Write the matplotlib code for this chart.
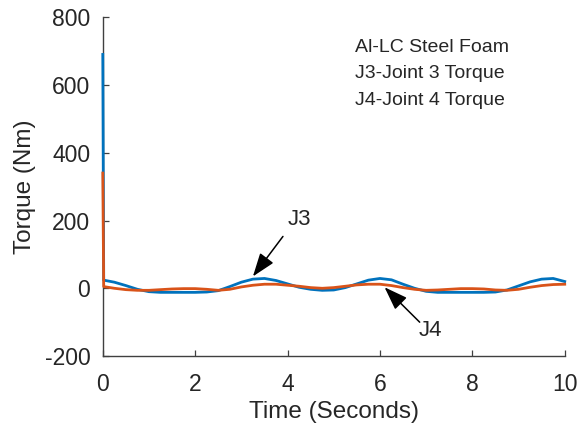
import matplotlib
matplotlib.use("Agg")
import matplotlib.pyplot as plt

plt.rcParams['font.family'] = ['Liberation Sans', 'DejaVu Sans']
plt.rcParams['axes.unicode_minus'] = False

time = [0.0, 0.02, 0.25, 0.5, 0.75, 1.0, 1.25, 1.5, 1.75, 2.0, 2.25, 2.5, 2.75,
        3.0, 3.25, 3.5, 3.75, 4.0, 4.25, 4.5, 4.75, 5.0, 5.25, 5.5, 5.75,
        6.0, 6.25, 6.5, 6.75, 7.0, 7.25, 7.5, 7.75, 8.0, 8.25, 8.5, 8.75,
        9.0, 9.25, 9.5, 9.75, 10.0]
j3_torque = [690, 24, 18, 8, -3, -10, -12, -12, -12, -12, -11, -7, 5,
             18, 27, 29, 23, 13, 3, -3, -6, -5, 2, 13, 24,
             29, 25, 12, 0, -9, -12, -12, -12, -12, -12, -11, -5,
             7, 19, 27, 29, 20]
j4_torque = [340, 5, 0, -4, -6, -6, -4, -2, -1, -1, -3, -6, -3,
             4, 9, 12, 12, 9, 6, 2, 0, 2, 6, 10, 12,
             12, 8, 2, -3, -6, -5, -3, -1, -1, -2, -5, -6,
             -3, 3, 8, 11, 12]

xticks = [0, 2, 4, 6, 8, 10]
yticks = [-200, 0, 200, 400, 600, 800]
info_lines = ["Al-LC Steel Foam", "J3-Joint 3 Torque", "J4-Joint 4 Torque"]

blue = '#0072BD'
orange = '#D95319'
axcol = '#404040'
txtcol = '#262626'

fig = plt.figure(figsize=(5.84, 4.29), dpi=100)
ax = fig.add_axes([0.176, 0.170, 0.791, 0.790])

ax.plot(time, j3_torque, color=blue, lw=2.0, solid_joinstyle='round',
        zorder=3, clip_on=False)
ax.plot(time, j4_torque, color=orange, lw=2.0, solid_joinstyle='round',
        zorder=3.1, clip_on=False)

ax.set_xlim(0, 10)
ax.set_ylim(-200, 800)
ax.set_xticks(xticks)
ax.set_yticks(yticks)
ax.tick_params(direction='in', length=4, width=0.9, colors=axcol,
               labelsize=16.5, labelcolor=txtcol)
ax.tick_params(axis='x', pad=12)
ax.tick_params(axis='y', pad=9)
for s in ['top', 'right']:
    ax.spines[s].set_visible(False)
for s in ['left', 'bottom']:
    ax.spines[s].set_color(axcol)
    ax.spines[s].set_linewidth(1.0)

ax.set_xlabel('Time (Seconds)', fontsize=17.5, color=txtcol, labelpad=4)
ax.set_ylabel('Torque (Nm)', fontsize=17.5, color=txtcol, labelpad=6)

for i, line in enumerate(info_lines):
    ax.text(5.45, 711 - i * 78, line, fontsize=14, color=txtcol,
            ha='left', va='center')

arrow = dict(arrowstyle='-|>,head_length=0.9,head_width=0.32',
             color='black', lw=1.1, shrinkA=0, shrinkB=0, mutation_scale=16)
ax.annotate('', xy=(3.25, 35), xytext=(3.9, 153), arrowprops=arrow)
ax.text(4.26, 204, 'J3', fontsize=16, color=txtcol, ha='center', va='center')
ax.annotate('', xy=(6.1, 3), xytext=(6.86, -100), arrowprops=arrow)
ax.text(7.1, -124, 'J4', fontsize=16, color=txtcol, ha='center', va='center')

fig.savefig('out.png', dpi=100, facecolor='white')
